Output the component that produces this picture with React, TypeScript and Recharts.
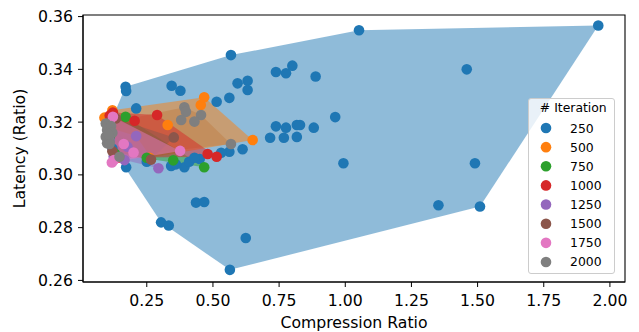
import React from "react";
import {
	ScatterChart,
	Scatter,
	XAxis,
	YAxis,
	ReferenceArea,
} from "recharts";

// [compression ratio, latency ratio] per iteration count
const it250: [number, number][] = [
	[0.17, 0.3334], [0.172, 0.3318], [0.344, 0.3338], [0.377, 0.3319], [0.568, 0.3454],
	[0.593, 0.3347], [0.631, 0.3357], [0.631, 0.3322], [1.052, 0.3548], [1.956, 0.3566],
	[0.738, 0.339], [0.776, 0.3385], [0.8, 0.3414], [0.888, 0.3373], [1.459, 0.34],
	[0.21, 0.3252], [0.514, 0.3277], [0.562, 0.3292], [0.738, 0.3184], [0.776, 0.3179],
	[0.817, 0.3189], [0.829, 0.3189], [0.881, 0.3179], [0.962, 0.3219], [0.716, 0.3141],
	[0.768, 0.3141], [0.817, 0.3144], [0.993, 0.3044], [1.49, 0.3044], [1.352, 0.2885],
	[1.509, 0.288], [0.564, 0.264], [0.624, 0.2761], [0.304, 0.282], [0.333, 0.2808],
	[0.436, 0.2895], [0.467, 0.2897], [0.172, 0.3029], [0.342, 0.3034], [0.392, 0.3029],
	[0.36, 0.304], [0.612, 0.3097], [0.562, 0.3088], [0.531, 0.3084], [0.45, 0.306],
	[0.41, 0.305], [0.43, 0.3065], [0.25, 0.305], [0.105, 0.318], [0.12, 0.31],
];
const it500: [number, number][] = [
	[0.09, 0.3217], [0.12, 0.3245], [0.11, 0.318], [0.329, 0.3189], [0.454, 0.3265],
	[0.467, 0.3294], [0.65, 0.3132], [0.26, 0.3065],
];
const it750: [number, number][] = [
	[0.12, 0.3215], [0.17, 0.322], [0.11, 0.314], [0.13, 0.308], [0.25, 0.3065],
	[0.35, 0.3055], [0.467, 0.3029],
];
const it1000: [number, number][] = [
	[0.11, 0.3225], [0.122, 0.3236], [0.204, 0.3205], [0.289, 0.3227], [0.48, 0.3079],
	[0.514, 0.3069], [0.115, 0.316], [0.14, 0.3065],
];
const it1250: [number, number][] = [
	[0.105, 0.318], [0.11, 0.313], [0.21, 0.3147], [0.177, 0.3107], [0.166, 0.3056],
	[0.294, 0.3025], [0.125, 0.307],
];
const it1500: [number, number][] = [
	[0.11, 0.32], [0.133, 0.3214], [0.352, 0.3142], [0.266, 0.3058], [0.12, 0.309],
];
const it1750: [number, number][] = [
	[0.11, 0.3195], [0.122, 0.322], [0.163, 0.3117], [0.126, 0.3056], [0.118, 0.3047],
	[0.376, 0.3091], [0.2, 0.3085],
];
const it2000: [number, number][] = [
	[0.095, 0.3195], [0.1, 0.317], [0.095, 0.3145], [0.1, 0.312], [0.11, 0.3125],
	[0.115, 0.3185], [0.109, 0.3117], [0.12, 0.316], [0.105, 0.3155], [0.147, 0.3069],
	[0.392, 0.3256], [0.398, 0.3239], [0.38, 0.3208], [0.455, 0.3227], [0.43, 0.3202],
	[0.568, 0.3117],
];

const labels = ["250", "500", "750", "1000", "1250", "1500", "1750", "2000"];
const colors = ["#1f77b4", "#ff7f0e", "#2ca02c", "#d62728", "#9467bd", "#8c564b", "#e377c2", "#7f7f7f"];
const values = [it250, it500, it750, it1000, it1250, it1500, it1750, it2000];
// drawing order of the hull fills (index into labels)
const hullOrder = [0, 7, 1, 2, 3, 4, 5, 6];

const xTicks = [0.25, 0.5, 0.75, 1.0, 1.25, 1.5, 1.75, 2.0];
const yTicks = [0.26, 0.28, 0.3, 0.32, 0.34, 0.36];
const xDomain = [0.009, 2.057];
const yDomain = [0.2594, 0.3606];

const FONT = "'DejaVu Sans', sans-serif";
const TICK = { fill: "#000", fontSize: 15.7, fontFamily: FONT };

type Pt = { x: number; y: number };

// monotone chain convex hull
function convexHull(points: Pt[]): Pt[] {
	const p = [...points].sort((a, b) => a.x - b.x || a.y - b.y);
	if (p.length < 3) return p;
	const cross = (o: Pt, a: Pt, b: Pt) => (a.x - o.x) * (b.y - o.y) - (a.y - o.y) * (b.x - o.x);
	const lower: Pt[] = [];
	for (const q of p) {
		while (lower.length >= 2 && cross(lower[lower.length - 2], lower[lower.length - 1], q) <= 0) lower.pop();
		lower.push(q);
	}
	const upper: Pt[] = [];
	for (let i = p.length - 1; i >= 0; i--) {
		const q = p[i];
		while (upper.length >= 2 && cross(upper[upper.length - 2], upper[upper.length - 1], q) <= 0) upper.pop();
		upper.push(q);
	}
	return lower.slice(0, -1).concat(upper.slice(0, -1));
}

const series = labels.map((name, i) => {
	const pts = values[i].map(([x, y]) => ({ x, y }));
	return { name, color: colors[i], pts, hull: convexHull(pts) };
});

const LegendBox = () => (
	<svg width={88} height={177} style={{ display: "block" }}>
		<rect x={0.5} y={0.5} width={86} height={175} rx={2.5} fill="#fff" fillOpacity={0.8} stroke="#cccccc" />
		<text x={45.3} y={14.3} textAnchor="middle" fontSize={12.4} fontFamily={FONT} fill="#000">
			# Iteration
		</text>
		{series.map((s, i) => (
			<g key={s.name}>
				<circle cx={18} cy={30 + i * 19.14} r={5.3} fill={s.color} />
				<text x={42} y={30 + i * 19.14 + 4.5} fontSize={12.4} fontFamily={FONT} fill="#000">
					{s.name}
				</text>
			</g>
		))}
	</svg>
);

export default function App() {
	return (
		<div style={{ position: "absolute", left: 0, top: 0, width: 639, height: 332, fontFamily: FONT }}>
			<ScatterChart width={639} height={332} margin={{ top: 15, right: 14, bottom: 0, left: 0 }}>
				<XAxis
					type="number"
					dataKey="x"
					domain={xDomain}
					ticks={xTicks}
					tickFormatter={(v: number) => v.toFixed(2)}
					allowDataOverflow
					height={50}
					tickSize={5}
					tickMargin={8}
					tick={TICK}
					stroke="#000"
					label={{
						content: (p: any) => (
							<text
								x={p.viewBox.x + p.viewBox.width / 2}
								y={328.2}
								textAnchor="middle"
								fontSize={15.7}
								fontFamily={FONT}
								fill="#000"
							>
								Compression Ratio
							</text>
						),
					}}
				/>
				<YAxis
					type="number"
					dataKey="y"
					domain={yDomain}
					ticks={yTicks}
					tickFormatter={(v: number) => v.toFixed(2)}
					allowDataOverflow
					width={83}
					tickSize={5}
					tickMargin={5}
					tick={TICK}
					stroke="#000"
					label={{
						content: (p: any) => (
							<text
								x={25}
								y={p.viewBox.y + p.viewBox.height / 2}
								transform={`rotate(-90 25 ${p.viewBox.y + p.viewBox.height / 2})`}
								textAnchor="middle"
								fontSize={15.7}
								fontFamily={FONT}
								fill="#000"
							>
								Latency (Ratio)
							</text>
						),
					}}
				/>
				{hullOrder.map((i) => {
					const s = series[i];
					return (
						<Scatter
							key={"hull" + s.name}
							name={"hull" + s.name}
							data={s.hull}
							fill={s.color}
							line={{ fill: s.color, fillOpacity: 0.5, stroke: "none" }}
							lineType="joint"
							shape={() => <g />}
							legendType="none"
							isAnimationActive={false}
						/>
					);
				})}
				{series.map((s) => (
					<Scatter
						key={s.name}
						name={s.name}
						data={s.pts}
						fill={s.color}
						shape={(p: any) => <circle cx={p.cx} cy={p.cy} r={5.3} fill={s.color} />}
						isAnimationActive={false}
					/>
				))}
				<ReferenceArea
					x1={xDomain[0]}
					x2={xDomain[1]}
					y1={yDomain[0]}
					y2={yDomain[1]}
					fill="none"
					stroke="#000"
					strokeWidth={1.1}
					ifOverflow="visible"
				/>
			</ScatterChart>
			<div style={{ position: "absolute", left: 528, top: 98 }}>
				<LegendBox />
			</div>
		</div>
	);
}
